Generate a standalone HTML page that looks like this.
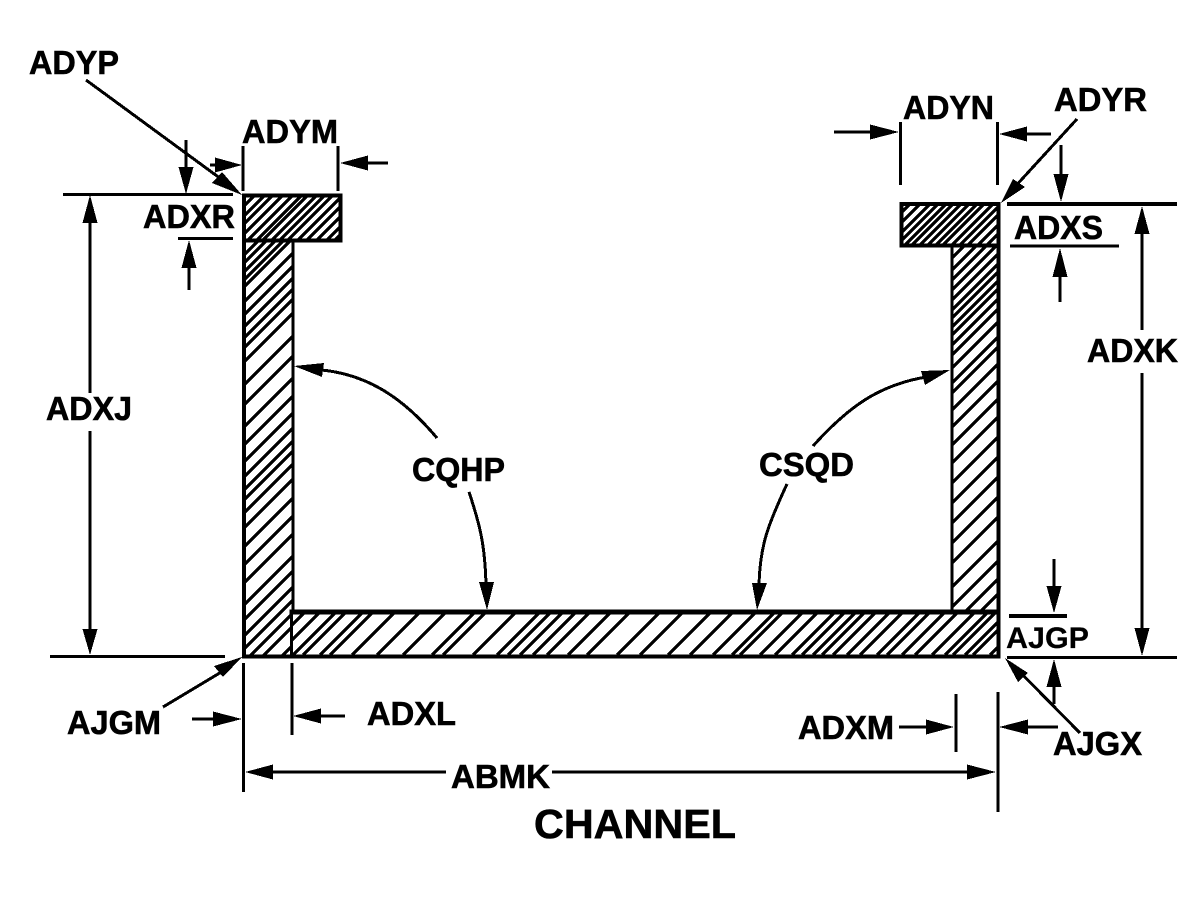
<!DOCTYPE html>
<html>
<head>
<meta charset="utf-8">
<title>Channel</title>
<style>
html,body{margin:0;padding:0;background:#fff;width:1200px;height:900px;overflow:hidden}
svg{display:block}
text{font-family:"Liberation Sans",Arial,sans-serif;font-weight:700;font-size:33px;fill:#000;stroke:#000;stroke-width:.6px}
.g{shape-rendering:crispEdges}
</style>
</head>
<body>
<svg width="1200" height="900" viewBox="0 0 1200 900" xmlns="http://www.w3.org/2000/svg">
<defs>
<clipPath id="c1"><rect x="244" y="195" width="97" height="46"/></clipPath>
<clipPath id="c2"><rect x="244" y="241" width="49" height="415"/></clipPath>
<clipPath id="c3"><rect x="292" y="612" width="707" height="44"/></clipPath>
<clipPath id="c4"><rect x="901" y="204" width="98" height="42"/></clipPath>
<clipPath id="c5"><rect x="952" y="246" width="47" height="366"/></clipPath>
</defs>
<rect width="1200" height="900" fill="#fff"/>

<!-- hatching -->
<g class="g" fill="none" stroke="#000" stroke-width="3.2">
<path clip-path="url(#c1)" d="M210 240l50-50M220 240l50-50M228 240l50-50M238 240l50-50M248 240l50-50M257 240l50-50M263 240l50-50M272 240l50-50M280 240l50-50M288 240l50-50M298 240l50-50M307 240l50-50M317 240l50-50M327 240l50-50M335 240l50-50"/>
<path clip-path="url(#c2)" d="M244 255l49-49M244 263l49-49M244 272l49-49M244 280l49-49M244 287l49-49M244 302l49-49M244 315l49-49M244 327l49-49M244 338l49-49M244 348l49-49M244 362l49-49M244 385l49-49M244 405l49-49M244 427l49-49M244 445l49-49M244 462l49-49M244 477l49-49M244 490l49-49M244 500l49-49M244 513l49-49M244 528l49-49M244 547l49-49M244 565l49-49M244 583l49-49M244 605l49-49M244 620l49-49M244 636l49-49M244 649l49-49M250 656l49-49M263 656l49-49M282 656l49-49"/>
<path clip-path="url(#c3)" d="M262 655l45-45M277 655l45-45M293 655l45-45M303 655l45-45M320 655l45-45M330 655l45-45M352 655l45-45M377 655l45-45M403 655l45-45M432 655l45-45M443 655l45-45M473 655l45-45M497 655l45-45M508 655l45-45M520 655l45-45M533 655l45-45M547 655l45-45M568 655l45-45M587 655l45-45M617 655l45-45M640 655l45-45M668 655l45-45M690 655l45-45M713 655l45-45M732 655l45-45M740 655l45-45M760 655l45-45M775 655l45-45M792 655l45-45M802 655l45-45M813 655l45-45M822 655l45-45M833 655l45-45M847 655l45-45M860 655l45-45M877 655l45-45M887 655l45-45M902 655l45-45M915 655l45-45M932 655l45-45M945 655l45-45M953 655l45-45M965 655l45-45M973 655l45-45M990 655l45-45"/>
<path clip-path="url(#c4)" d="M869 245l45-45M879 245l45-45M889 245l45-45M897 245l45-45M905 245l45-45M912 245l45-45M920 245l45-45M928 245l45-45M936 245l45-45M943 245l45-45M952 245l45-45M960 245l45-45M968 245l45-45M978 245l45-45M987 245l45-45"/>
<path clip-path="url(#c5)" d="M952 258l48-48M952 270l48-48M952 280l48-48M952 290l48-48M952 300l48-48M952 310l48-48M952 318l48-48M952 327l48-48M952 335l48-48M952 345l48-48M952 355l48-48M952 368l48-48M952 383l48-48M952 393l48-48M952 410l48-48M952 427l48-48M952 445l48-48M952 463l48-48M952 483l48-48M952 503l48-48M952 523l48-48M952 543l48-48M952 563l48-48M952 587l48-48M952 607l48-48M952 625l48-48M952 640l48-48"/>
</g>

<!-- section outlines -->
<g class="g" fill="none" stroke="#000" stroke-linecap="square">
<path stroke-width="4" d="M244 195.500H340.500V240.500H244"/>
<path stroke-width="4" d="M244 195.500V656.500"/>
<path stroke-width="3" d="M293 241V612"/>
<path stroke-width="3" d="M291.500 612V656"/>
<path stroke-width="5" d="M292 612H998"/>
<path stroke-width="4" d="M244 656.500H998.500"/>
<path stroke-width="4" d="M998.500 204.500V656.500"/>
<path stroke-width="4" d="M998.500 204H901.500V245.500H998.500"/>
<path stroke-width="3" d="M952 246V611"/>
</g>

<!-- dimension and leader lines -->
<g class="g" fill="none" stroke="#000" stroke-width="3">
<path d="M63 194.500H233"/>
<path d="M178 238.500H233"/>
<path d="M50 656.500H225"/>
<path d="M1007 204H1177" stroke-width="4"/>
<path d="M1010 246H1119"/>
<path d="M1009 616H1067" stroke-width="4"/>
<path d="M1007 657.500H1177"/>

<path d="M243 146V191M338 146V191"/>
<path d="M900.500 122V185M997.500 122V185"/>
<path d="M243.500 663V792M292 663V735"/>
<path d="M956 694V752M998 692V812"/>

<path d="M210 165H220M345 163H388"/>
<path d="M834 132H875M1020 134H1051"/>
<path d="M186 140V170M189 265V290"/>
<path d="M1061 145V178M1060 272V302"/>
<path d="M90 220V393M90 431V632"/>
<path d="M1142 230V330M1142 373V632"/>
<path d="M1054 559V590M1054 682V704"/>
<path d="M192 719H218M315 716H345"/>
<path d="M899 727H930M1022 727H1058"/>
<path d="M268 772H446M552 772H972"/>

<path d="M86 80L232 187"/>
<path d="M1077 119L1012 190"/>
<path d="M163 707L228 668"/>
<path d="M1080 733L1016 668"/>

<path d="M437 438C405 400 370 375 322 370"/>
<path d="M469 492C480 525 485 545 486 585"/>
<path d="M813 446C850 405 880 385 926 377"/>
<path d="M787 484C768 525 760 545 759 585"/>
</g>

<!-- arrowheads -->
<g class="g" fill="#000">
<polygon points="242,195 212,183 222,172"/>
<polygon points="242,165 215,157.500 215,172.500"/>
<polygon points="340,163 368,155.500 368,170.500"/>
<polygon points="186,194 178.500,167 193.500,167"/>
<polygon points="189,240 181.500,268 196.500,268"/>
<polygon points="90,195 82.500,223 97.500,223"/>
<polygon points="90,655 82.500,629 97.500,629"/>
<polygon points="899,132 870,124.500 870,139.500"/>
<polygon points="999,134 1027,126.500 1027,141.500"/>
<polygon points="1001,203 1013,179 1025,187"/>
<polygon points="1061,202 1053.500,174 1068.500,174"/>
<polygon points="1060,248 1052.500,277 1067.500,277"/>
<polygon points="1142,206 1134.500,234 1149.500,234"/>
<polygon points="1142,656 1134.500,628 1149.500,628"/>
<polygon points="1054,613 1046.500,586 1061.500,586"/>
<polygon points="1054,659 1046.500,687 1061.500,687"/>
<polygon points="1005,658 1028,673 1018,682"/>
<polygon points="242,657 214,666 223,677"/>
<polygon points="242,719 213,711.500 213,726.500"/>
<polygon points="293,716 321,708.500 321,723.500"/>
<polygon points="954,727 926,719.500 926,734.500"/>
<polygon points="999,727 1028,719.500 1028,734.500"/>
<polygon points="245,772 273,764.500 273,779.500"/>
<polygon points="996,772 967,764.500 967,779.500"/>
<polygon points="294,366 324,363 322,377"/>
<polygon points="487,610 479,582 494,582"/>
<polygon points="950,370 921,371 925,385"/>
<polygon points="757,610 752,583 767,583"/>
</g>

<!-- labels -->
<text x="29" y="74" textLength="90" lengthAdjust="spacingAndGlyphs">ADYP</text>
<text x="242" y="143" textLength="96" lengthAdjust="spacingAndGlyphs">ADYM</text>
<text x="143" y="228" textLength="92" lengthAdjust="spacingAndGlyphs">ADXR</text>
<text x="903" y="119" textLength="91" lengthAdjust="spacingAndGlyphs">ADYN</text>
<text x="1054" y="111" textLength="93" lengthAdjust="spacingAndGlyphs">ADYR</text>
<text x="1014" y="239" textLength="89" lengthAdjust="spacingAndGlyphs">ADXS</text>
<text x="1087" y="362" textLength="91" lengthAdjust="spacingAndGlyphs">ADXK</text>
<text x="46" y="420" textLength="86" lengthAdjust="spacingAndGlyphs">ADXJ</text>
<text x="412" y="481" textLength="93" lengthAdjust="spacingAndGlyphs">CQHP</text>
<text x="759" y="476" textLength="95" lengthAdjust="spacingAndGlyphs">CSQD</text>
<text x="67" y="734" textLength="94" lengthAdjust="spacingAndGlyphs">AJGM</text>
<text x="367" y="725" textLength="89" lengthAdjust="spacingAndGlyphs">ADXL</text>
<text x="451" y="788" textLength="99" lengthAdjust="spacingAndGlyphs">ABMK</text>
<text x="798" y="739" textLength="96" lengthAdjust="spacingAndGlyphs">ADXM</text>
<text x="1053" y="755" textLength="89" lengthAdjust="spacingAndGlyphs">AJGX</text>
<text x="1006" y="648" textLength="83" lengthAdjust="spacingAndGlyphs" style="font-size:30px;stroke-width:.2px">AJGP</text>
<text x="534" y="838" textLength="202" lengthAdjust="spacingAndGlyphs" style="font-size:41px">CHANNEL</text>
</svg>
</body>
</html>
